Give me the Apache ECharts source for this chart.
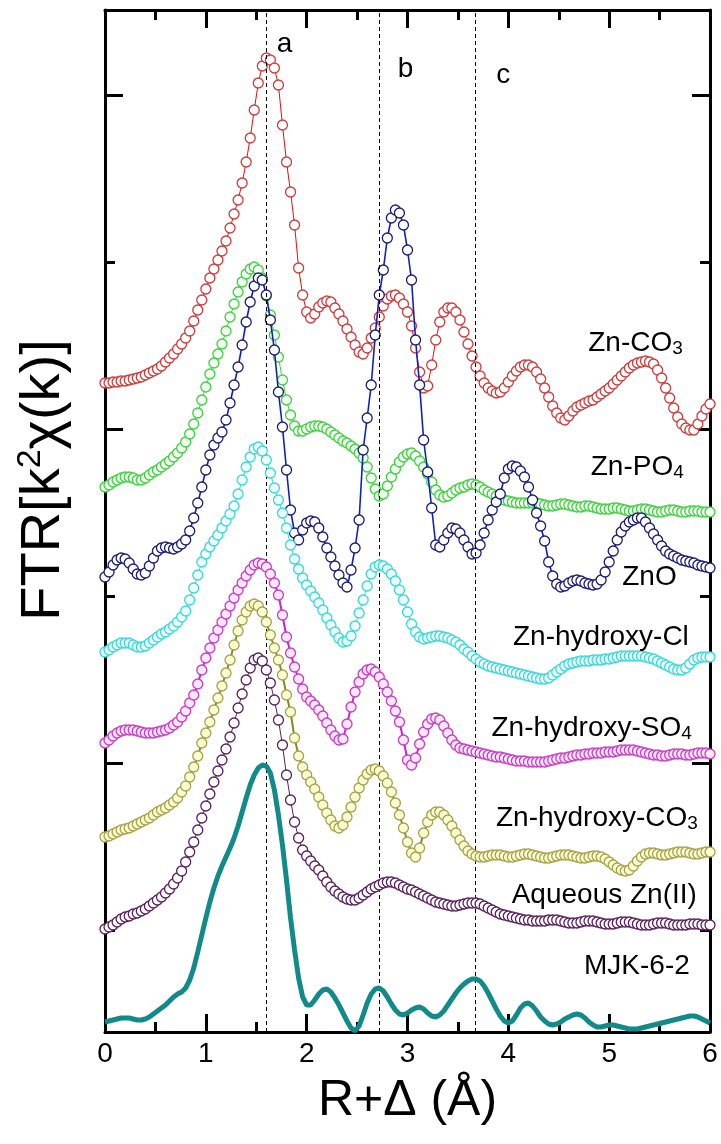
<!DOCTYPE html>
<html>
<head>
<meta charset="utf-8">
<script src="https://cdn.jsdelivr.net/npm/echarts@6/dist/echarts.min.js"></script>
<style>
  html, body { margin: 0; padding: 0; background: #fff; }
  #chart { width: 721px; height: 1144px; }
</style>
</head>
<body>
<div id="chart"></div>
<script>
// Fourier-transform magnitudes, stacked with vertical offsets, sampled every 0.04 Å
const R_STEP = 0.04;
const R = Array.from({ length: 151 }, (_, i) => +(i * R_STEP).toFixed(2));

const znCO3 = [
  64.9, 64.9, 65.0, 65.0, 65.1, 65.1, 65.2, 65.3, 65.4, 65.5,
  65.7, 65.9, 66.1, 66.3, 66.6, 67.0, 67.4, 67.8, 68.3, 68.8,
  69.4, 70.1, 71.1, 72.2, 73.2, 74.3, 75.4, 76.3, 77.2, 78.1,
  79.1, 80.4, 81.8, 83.2, 84.9, 87.0, 89.4, 92.2, 94.9, 96.6,
  97.4, 97.2, 96.4, 94.7, 90.7, 87.0, 84.0, 80.7, 76.4, 73.7,
  72.0, 71.4, 71.8, 72.5, 72.9, 73.1, 73.0, 72.4, 71.8, 71.1,
  70.3, 69.5, 68.7, 68.0, 67.8, 68.4, 69.4, 70.4, 71.5, 72.6,
  73.3, 73.6, 73.7, 73.4, 72.8, 72.0, 70.6, 68.4, 66.0, 64.4,
  64.6, 66.7, 69.2, 71.0, 72.0, 72.4, 72.4, 72.0, 71.2, 70.0,
  68.8, 67.6, 66.5, 65.6, 64.9, 64.4, 64.1, 63.9, 64.0, 64.4,
  65.0, 65.6, 66.1, 66.5, 66.7, 66.7, 66.5, 66.0, 65.3, 64.4,
  63.5, 62.6, 61.9, 61.4, 61.2, 61.6, 62.1, 62.5, 62.7, 62.9,
  63.1, 63.2, 63.5, 63.8, 64.1, 64.4, 64.8, 65.2, 65.6, 66.0,
  66.4, 66.7, 66.9, 67.0, 67.1, 67.0, 66.8, 66.2, 65.4, 64.4,
  63.4, 62.4, 61.5, 60.8, 60.4, 60.2, 60.2, 60.8, 61.6, 62.3,
  62.8
];

const znPO4 = [
  54.5, 54.7, 55.0, 55.2, 55.4, 55.5, 55.5, 55.4, 55.2, 55.2,
  55.4, 55.7, 56.0, 56.2, 56.5, 56.8, 57.1, 57.5, 57.9, 58.4,
  59.0, 59.8, 60.8, 61.9, 63.2, 64.5, 65.8, 66.9, 67.8, 68.8,
  70.1, 71.5, 72.8, 74.0, 75.0, 75.8, 76.3, 76.5, 76.2, 75.4,
  73.6, 71.7, 69.7, 67.5, 65.2, 63.2, 61.7, 60.6, 60.1, 60.1,
  60.3, 60.5, 60.6, 60.6, 60.5, 60.3, 60.0, 59.7, 59.4, 59.1,
  58.9, 58.6, 58.3, 57.9, 57.4, 56.5, 55.4, 54.3, 53.6, 53.8,
  54.6, 55.5, 56.3, 57.0, 57.5, 57.8, 57.9, 57.6, 57.1, 56.5,
  55.8, 55.0, 54.2, 53.7, 53.5, 53.6, 53.9, 54.2, 54.4, 54.5,
  54.7, 54.8, 54.7, 54.5, 54.2, 54.0, 53.8, 53.6, 53.4, 53.2,
  53.1, 53.0, 52.9, 52.9, 52.9, 52.9, 52.9, 52.9, 52.8, 52.7,
  52.6, 52.6, 52.7, 52.8, 52.8, 52.7, 52.6, 52.5, 52.5, 52.6,
  52.6, 52.5, 52.4, 52.3, 52.3, 52.3, 52.4, 52.4, 52.3, 52.2,
  52.1, 52.1, 52.2, 52.3, 52.3, 52.2, 52.1, 52.0, 52.0, 52.1,
  52.2, 52.2, 52.1, 52.0, 52.0, 52.1, 52.1, 52.1, 52.0, 52.0,
  52.0
];

const znO = [
  45.5, 46.0, 46.7, 47.2, 47.4, 47.3, 46.9, 46.3, 45.8, 45.7,
  45.9, 46.6, 47.4, 48.1, 48.4, 48.5, 48.4, 48.3, 48.5, 48.8,
  49.2, 50.1, 51.4, 52.9, 54.5, 56.2, 57.7, 58.7, 59.4, 60.0,
  61.2, 62.9, 64.7, 66.5, 68.7, 71.0, 73.0, 74.6, 75.4, 75.2,
  73.7, 71.2, 68.2, 64.0, 60.5, 56.2, 52.2, 49.9, 49.2, 50.2,
  50.9, 51.1, 51.0, 50.4, 49.5, 48.4, 47.5, 46.6, 45.7, 44.9,
  44.5, 46.2, 48.4, 51.2, 58.2, 61.4, 64.7, 69.7, 73.7, 76.2,
  79.4, 81.4, 82.2, 81.9, 80.7, 78.2, 75.2, 69.2, 64.7, 59.2,
  56.0, 52.4, 48.7, 48.5, 49.2, 49.9, 50.4, 50.3, 49.9, 49.2,
  48.5, 47.8, 47.9, 48.7, 49.9, 51.2, 52.2, 53.0, 53.8, 55.4,
  56.3, 56.6, 56.5, 56.1, 55.5, 54.5, 53.2, 51.9, 50.6, 49.1,
  47.0, 45.6, 44.8, 44.5, 44.6, 44.9, 45.1, 45.2, 45.1, 44.9,
  44.8, 44.7, 44.8, 45.2, 46.0, 47.0, 48.1, 49.2, 50.0, 50.6,
  51.0, 51.2, 51.4, 51.4, 51.0, 50.4, 49.8, 49.2, 48.6, 48.1,
  47.8, 47.6, 47.4, 47.2, 47.1, 47.0, 46.9, 46.7, 46.6, 46.5,
  46.4
];

const znHydroxyCl = [
  38.0, 38.2, 38.5, 38.7, 38.9, 38.9, 38.9, 38.7, 38.5, 38.5,
  38.6, 38.9, 39.2, 39.5, 39.8, 40.0, 40.3, 40.6, 41.0, 41.5,
  42.1, 43.2, 44.4, 45.7, 47.0, 47.8, 48.5, 49.1, 49.7, 50.4,
  51.1, 51.8, 52.6, 53.8, 55.2, 56.5, 57.5, 58.3, 58.5, 58.1,
  57.2, 55.9, 54.4, 53.2, 51.9, 50.4, 48.7, 47.3, 46.3, 45.4,
  44.7, 44.1, 43.5, 42.9, 42.2, 41.4, 40.7, 40.0, 39.4, 39.0,
  39.1, 39.6, 40.6, 41.9, 43.2, 44.6, 45.8, 46.5, 46.7, 46.6,
  46.3, 45.8, 45.1, 44.2, 43.2, 42.0, 40.8, 40.0, 39.5, 39.3,
  39.4, 39.5, 39.6, 39.6, 39.5, 39.4, 39.2, 39.0, 38.7, 38.3,
  38.0, 37.6, 37.3, 37.0, 36.8, 36.6, 36.5, 36.4, 36.3, 36.2,
  36.1, 36.0, 35.9, 35.8, 35.7, 35.6, 35.5, 35.4, 35.3, 35.3,
  35.4, 35.7, 36.0, 36.3, 36.6, 36.8, 36.9, 37.0, 37.1, 37.1,
  37.1, 37.2, 37.2, 37.2, 37.3, 37.3, 37.4, 37.5, 37.6, 37.6,
  37.6, 37.6, 37.6, 37.6, 37.5, 37.4, 37.3, 37.1, 36.9, 36.7,
  36.5, 36.3, 36.2, 36.2, 36.4, 36.8, 37.2, 37.4, 37.5, 37.5,
  37.5
];

const znHydroxySO4 = [
  28.9, 29.2, 29.6, 29.9, 30.1, 30.2, 30.2, 30.2, 30.1, 30.0,
  29.9, 29.9, 29.9, 30.0, 30.1, 30.2, 30.4, 30.7, 31.0, 31.5,
  32.1, 32.9, 33.7, 34.8, 36.2, 37.4, 38.4, 39.4, 40.2, 41.0,
  41.8, 42.6, 43.4, 44.2, 44.9, 45.6, 46.2, 46.7, 46.9, 46.8,
  46.5, 45.8, 44.9, 43.7, 41.7, 39.5, 37.9, 36.5, 35.3, 34.3,
  33.5, 33.1, 32.7, 32.2, 31.6, 30.9, 30.2, 29.6, 29.2, 29.3,
  30.8, 32.5, 34.0, 35.0, 35.8, 36.2, 36.3, 36.0, 35.5, 34.8,
  34.0, 33.1, 32.1, 31.0, 29.2, 27.2, 26.7, 27.4, 28.8, 30.0,
  30.8, 31.3, 31.4, 31.2, 30.6, 29.9, 29.2, 28.7, 28.4, 28.3,
  28.2, 28.1, 28.0, 27.9, 27.8, 27.7, 27.6, 27.5, 27.5, 27.4,
  27.3, 27.2, 27.1, 27.1, 27.1, 27.0, 27.0, 27.0, 27.0, 27.0,
  27.1, 27.2, 27.3, 27.4, 27.4, 27.5, 27.6, 27.7, 27.7, 27.8,
  27.8, 27.9, 27.9, 27.9, 28.0, 28.0, 28.0, 28.1, 28.2, 28.2,
  28.2, 28.2, 28.1, 28.0, 27.9, 27.8, 27.7, 27.7, 27.6, 27.6,
  27.7, 27.8, 27.8, 27.8, 27.7, 27.7, 27.8, 27.9, 27.9, 27.9,
  27.8
];

const znHydroxyCO3 = [
  19.5, 19.6, 19.8, 20.0, 20.2, 20.3, 20.4, 20.6, 20.8, 21.0,
  21.2, 21.4, 21.7, 22.0, 22.2, 22.4, 22.7, 23.0, 23.4, 24.0,
  24.6, 25.5, 26.5, 27.6, 28.9, 29.9, 31.0, 32.2, 33.4, 34.6,
  35.9, 37.2, 38.7, 40.1, 41.2, 42.0, 42.6, 42.8, 42.6, 42.0,
  41.0, 39.7, 38.4, 37.2, 35.7, 33.7, 32.0, 29.4, 27.6, 26.5,
  25.7, 25.0, 24.3, 23.5, 22.7, 21.9, 21.2, 20.6, 20.4, 20.7,
  21.5, 22.5, 23.5, 24.4, 25.2, 25.8, 26.2, 26.3, 26.1, 25.6,
  24.9, 24.0, 22.9, 21.7, 20.4, 19.0, 17.9, 17.5, 18.4, 19.9,
  21.0, 21.7, 22.0, 22.0, 21.7, 21.2, 20.6, 19.9, 19.2, 18.6,
  18.1, 17.8, 17.6, 17.5, 17.5, 17.6, 17.7, 17.7, 17.7, 17.6,
  17.5, 17.5, 17.6, 17.7, 17.8, 17.8, 17.7, 17.6, 17.5, 17.4,
  17.4, 17.5, 17.6, 17.7, 17.7, 17.7, 17.6, 17.5, 17.4, 17.4,
  17.5, 17.6, 17.6, 17.5, 17.3, 17.0, 16.7, 16.4, 16.2, 16.1,
  16.2, 16.6, 17.1, 17.5, 17.8, 17.9, 17.9, 17.8, 17.7, 17.7,
  17.8, 17.9, 18.0, 18.0, 18.0, 17.9, 17.8, 17.8, 17.9, 18.0,
  18.0
];

const aqueousZn = [
  10.3, 10.5, 10.7, 11.0, 11.3, 11.5, 11.6, 11.8, 11.9, 12.1,
  12.3, 12.6, 12.9, 13.2, 13.5, 13.9, 14.3, 14.8, 15.4, 16.1,
  17.0, 18.0, 19.0, 20.2, 21.4, 22.6, 23.8, 25.0, 26.1, 27.2,
  28.3, 29.5, 30.9, 32.4, 33.8, 35.2, 36.4, 37.2, 37.4, 37.1,
  36.2, 34.9, 33.2, 31.2, 28.7, 25.7, 23.2, 21.0, 19.4, 18.2,
  17.6, 17.1, 16.6, 16.2, 15.6, 15.0, 14.5, 14.1, 13.8, 13.5,
  13.3, 13.2, 13.2, 13.4, 13.7, 14.0, 14.3, 14.5, 14.7, 14.9,
  15.0, 15.0, 14.9, 14.7, 14.5, 14.3, 14.2, 14.0, 13.8, 13.6,
  13.4, 13.2, 13.0, 12.9, 12.8, 12.7, 12.6, 12.6, 12.7, 12.8,
  12.9, 12.9, 12.9, 12.8, 12.6, 12.4, 12.2, 12.0, 11.8, 11.7,
  11.6, 11.5, 11.4, 11.3, 11.2, 11.2, 11.1, 11.1, 11.1, 11.1,
  11.2, 11.2, 11.2, 11.1, 11.0, 10.9, 10.9, 10.9, 11.0, 11.1,
  11.1, 11.1, 11.0, 10.9, 10.8, 10.8, 10.8, 10.9, 11.0, 11.0,
  11.0, 10.9, 10.8, 10.7, 10.7, 10.7, 10.8, 10.9, 10.9, 10.9,
  10.8, 10.7, 10.7, 10.7, 10.7, 10.8, 10.8, 10.8, 10.7, 10.7,
  10.7
];

const mjk62 = [
  1.0, 1.1, 1.2, 1.3, 1.4, 1.4, 1.4, 1.3, 1.2, 1.2,
  1.3, 1.5, 1.8, 2.1, 2.4, 2.7, 3.1, 3.5, 3.8, 4.0,
  4.4, 5.2, 6.4, 8.0, 9.7, 11.4, 13.0, 14.4, 15.6, 16.6,
  17.5, 18.4, 19.4, 20.6, 22.0, 23.4, 24.7, 25.7, 26.4, 26.7,
  26.6, 25.9, 24.2, 21.7, 18.7, 15.2, 11.4, 8.2, 5.4, 3.5,
  2.7, 2.7, 3.2, 3.8, 4.2, 4.3, 4.0, 3.4, 2.7, 1.9,
  1.1, 0.4, 0.1, 0.6, 1.7, 2.9, 3.8, 4.3, 4.4, 4.1,
  3.5, 2.8, 2.2, 1.8, 1.7, 1.9, 2.2, 2.4, 2.5, 2.3,
  1.9, 1.6, 1.5, 1.7, 2.1, 2.7, 3.3, 3.9, 4.4, 4.8,
  5.1, 5.3, 5.3, 5.1, 4.6, 3.9, 3.1, 2.3, 1.6, 1.1,
  0.9, 1.1, 1.7, 2.4, 2.8, 2.9, 2.6, 2.1, 1.5, 1.1,
  0.8, 0.7, 0.8, 1.0, 1.3, 1.5, 1.7, 1.8, 1.7, 1.4,
  1.0, 0.7, 0.5, 0.5, 0.6, 0.7, 0.7, 0.6, 0.5, 0.4,
  0.3, 0.3, 0.3, 0.4, 0.5, 0.6, 0.7, 0.8, 0.9, 1.0,
  1.1, 1.2, 1.3, 1.4, 1.5, 1.6, 1.6, 1.5, 1.3, 1.1,
  0.9
];

const seriesNames = [
  'Zn-CO3', 'Zn-PO4', 'ZnO', 'Zn-hydroxy-Cl',
  'Zn-hydroxy-SO4', 'Zn-hydroxy-CO3', 'Aqueous Zn(II)', 'MJK-6-2'
];
const seriesValues = [znCO3, znPO4, znO, znHydroxyCl, znHydroxySO4, znHydroxyCO3, aqueousZn, mjk62];

// Rich-text versions of the curve names (subscripts)
const seriesLabels = [
  'Zn-CO{sub|3}', 'Zn-PO{sub|4}', 'ZnO', 'Zn-hydroxy-Cl',
  'Zn-hydroxy-SO{sub|4}', 'Zn-hydroxy-CO{sub|3}', 'Aqueous Zn(II)', 'MJK-6-2'
];

// Shell positions marked by dashed guides
const shellR = [1.6, 2.72, 3.67];
const shellNames = ['a', 'b', 'c'];

const xTicks = [0, 1, 2, 3, 4, 5, 6];
const yMajorTicks = [26.9, 60.3, 93.7];
const yMinorTicks = [10.2, 43.6, 77.0];

// ---- styling ----
const FONT = '"Liberation Sans", Arial, Helvetica, sans-serif';
const styles = [
  { stroke: '#d23a3a', fill: '#ffffff', line: '#e01010', lw: 1 },
  { stroke: '#3fd03f', fill: '#f2fff2', line: '#3fd03f', lw: 1 },
  { stroke: '#1c1c78', fill: '#ffffff', line: '#1020c0', lw: 1.6 },
  { stroke: '#38d8d8', fill: '#effefe', line: '#38d8d8', lw: 1 },
  { stroke: '#c83cc8', fill: '#fbe6fb', line: '#d020d0', lw: 2 },
  { stroke: '#a6a24a', fill: '#fcfcd2', line: '#8a8a20', lw: 2 },
  { stroke: '#5a1f5e', fill: '#ffffff', line: '#5a1f5e', lw: 1 },
  { stroke: '#128a8a', fill: '#128a8a', line: '#128a8a', lw: 5 }
];

const chart = echarts.init(document.getElementById('chart'), null, { renderer: 'canvas' });

const series = seriesValues.map((vals, k) => {
  const st = styles[k];
  const isLine = k === seriesValues.length - 1;
  const s = {
    name: seriesNames[k],
    type: 'line',
    data: vals.map((v, i) => [R[i], v]),
    xAxisIndex: 0,
    yAxisIndex: 0,
    showAllSymbol: true,
    symbol: isLine ? 'none' : 'circle',
    symbolSize: 10,
    itemStyle: { color: st.fill, borderColor: st.stroke, borderWidth: 1.3 },
    lineStyle: { color: st.line, width: st.lw },
    silent: true,
    z: 2 + k
  };
  if (k === 0) {
    s.markLine = {
      silent: true,
      symbol: 'none',
      label: { show: false },
      lineStyle: { type: [4, 3], color: '#000', width: 1 },
      data: shellR.map(x => ({ xAxis: x }))
    };
  }
  return s;
});

const baseX = {
  type: 'value', min: 0, max: 6, interval: 1,
  axisLine: { show: true, onZero: false, lineStyle: { color: '#000', width: 3 } },
  axisTick: { show: true, inside: true, length: 18, lineStyle: { color: '#000', width: 3 } },
  minorTick: { show: true, splitNumber: 2, length: 10, lineStyle: { color: '#000', width: 3 } },
  splitLine: { show: false }
};

const yAxisFor = (pos, ticks, len, showLine) => ({
  type: 'value', min: 0, max: 102.2, position: pos,
  axisLine: { show: showLine, onZero: false, lineStyle: { color: '#000', width: 3 } },
  axisTick: { show: true, inside: true, length: len, customValues: ticks, lineStyle: { color: '#000', width: 3 } },
  axisLabel: { show: false },
  splitLine: { show: false }
});

const option = {
  animation: false,
  backgroundColor: '#ffffff',
  grid: { left: 105, right: 11, top: 10, bottom: 112, containLabel: false },
  xAxis: [
    Object.assign({}, baseX, {
      position: 'bottom',
      name: 'R+Δ (Å)',
      nameLocation: 'middle',
      nameGap: 44,
      nameTextStyle: { fontSize: 50, fontFamily: FONT, color: '#000' },
      axisLabel: { show: true, fontSize: 28, fontFamily: FONT, color: '#000', margin: 8, customValues: xTicks }
    }),
    Object.assign({}, baseX, { position: 'top', axisLabel: { show: false } })
  ],
  yAxis: [
    yAxisFor('left', yMajorTicks, 18, true),
    yAxisFor('left', yMinorTicks, 10, false),
    yAxisFor('right', yMajorTicks, 18, true),
    yAxisFor('right', yMinorTicks, 10, false)
  ],
  series: series
};

chart.setOption(option);

// Annotation anchors (data coordinates: right edge / centre of each label)
const labelAnchors = [
  [5.73, 68.9], [5.74, 56.5], [5.67, 45.5], [5.79, 39.5],
  [5.82, 30.4], [5.88, 21.4], [5.87, 13.7], [5.80, 6.6]
];
// Letter anchors (centre of each letter) next to the dashed guides
const shellLabelAt = [[1.78, 98.8], [2.98, 96.3], [3.95, 95.7]];

const toPx = (x, y) => chart.convertToPixel({ xAxisIndex: 0, yAxisIndex: 0 }, [x, y]);

const richText = {
  sub: { fontSize: 19, fontFamily: FONT, fill: '#000', verticalAlign: 'bottom', lineHeight: 14 }
};

const graphics = [];
seriesLabels.forEach((txt, k) => {
  const p = toPx(labelAnchors[k][0], labelAnchors[k][1]);
  graphics.push({
    type: 'text', x: p[0], y: p[1], silent: true, z: 100,
    style: {
      text: txt, align: 'right', verticalAlign: 'middle',
      fontSize: 28, fontFamily: FONT, fill: '#000', lineHeight: 30, rich: richText
    }
  });
});
shellNames.forEach((t, k) => {
  const p = toPx(shellLabelAt[k][0], shellLabelAt[k][1]);
  graphics.push({
    type: 'text', x: p[0], y: p[1], silent: true, z: 100,
    style: { text: t, align: 'center', verticalAlign: 'middle', fontSize: 28, fontFamily: FONT, fill: '#000' }
  });
});
// Vertical axis title
graphics.push({
  type: 'text', x: 44, y: 480, rotation: Math.PI / 2, silent: true, z: 100,
  style: {
    text: 'FTR[k{sup|2}χ(k)]', align: 'center', verticalAlign: 'middle',
    fontSize: 56, fontFamily: FONT, fill: '#000', lineHeight: 60,
    rich: { sup: { fontSize: 34, fontFamily: FONT, fill: '#000', verticalAlign: 'top', lineHeight: 32 } }
  }
});

chart.setOption({ graphic: graphics });
</script>
</body>
</html>
